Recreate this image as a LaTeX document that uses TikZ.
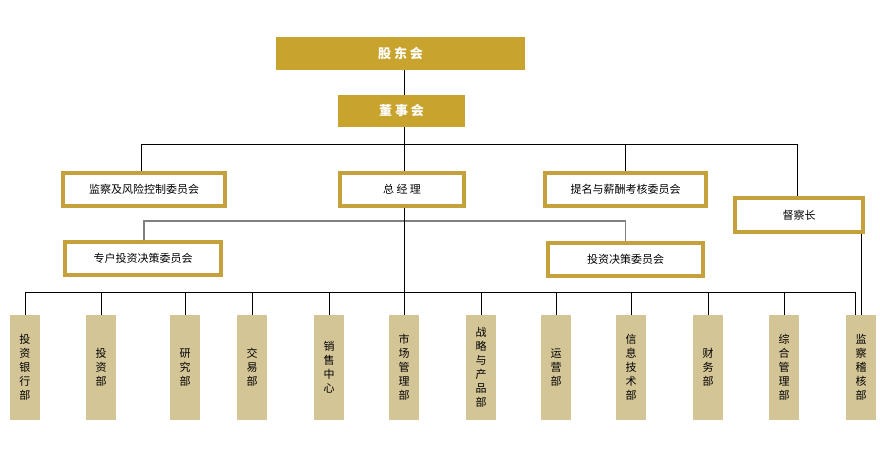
\documentclass[tikz,border=0pt]{standalone}
\usepackage{fontspec}
\setmainfont{Noto Sans CJK SC}
\begin{document}
\begin{tikzpicture}[x=1pt,y=-1pt,
 solid/.style={fill=gold,draw=none,text=white,font=\bfseries\fontsize{13}{15}\selectfont,inner sep=0},
 obox/.style={draw=goldb,line width=3.5pt,fill=white,inner sep=0,font=\fontsize{11}{13}\selectfont},
 dept/.style={fill=tan,draw=none,inner sep=0,minimum width=30pt,minimum height=105pt,align=center,font=\fontsize{11}{14}\selectfont,anchor=north},
 ln/.style={draw=black,line width=0.8pt},
 gln/.style={draw=gray,line width=1.2pt}]
\definecolor{gold}{HTML}{C8A32E}
\definecolor{goldb}{HTML}{C4A13A}
\definecolor{tan}{HTML}{D4C597}
\fill[white] (0,0) rectangle (880,471);
\node[solid,minimum width=249pt,minimum height=33pt] (gd) at (400.5,53.5) {股 东 会};
\node[solid,minimum width=127pt,minimum height=32pt] (ds) at (401.5,111) {董 事 会};
\node[obox,minimum width=162pt,minimum height=33pt] (jc) at (144,189.5) {监察及风险控制委员会};
\node[obox,minimum width=124pt,minimum height=33pt] (zjl) at (402,189.5) {总 经 理};
\node[obox,minimum width=161pt,minimum height=33pt] (tm) at (625.5,189.5) {提名与薪酬考核委员会};
\node[obox,minimum width=128pt,minimum height=34pt] (dc) at (799,215) {督察长};
\node[obox,minimum width=156pt,minimum height=33pt] (zh) at (143,258.5) {专户投资决策委员会};
\node[obox,minimum width=155pt,minimum height=33pt] (tz) at (625.5,259.5) {投资决策委员会};
\foreach \n/\x/\t in {d1/25/投\\资\\银\\行\\部, d2/101/投\\资\\部, d3/185/研\\究\\部, d4/252/交\\易\\部, d5/329/销\\售\\中\\心, d6/404/市\\场\\管\\理\\部, d7/481/战\\略\\与\\产\\品\\部, d8/556/运\\营\\部, d9/631/信\\息\\技\\术\\部, d10/708/财\\务\\部, d11/784/综\\合\\管\\理\\部, d12/861/监\\察\\稽\\核\\部}
 \node[dept] (\n) at (\x,315) {\t};
\draw[ln] (gd.south -| d6) -- (ds.north -| d6);
\draw[ln] (ds.south -| d6) -- (zjl.north -| d6);
\coordinate (hl) at (141,144); \coordinate (hr) at (797,144);
\draw[ln] (jc.north -| hl) -- (hl) -- (hr) -- (dc.north -| hr);
\draw[ln] (tm.north) -- (tm.north |- hl);
\coordinate (gl) at (144,221);
\draw[gln] (zh.north -| gl) -- (gl) -- (tz.north |- gl) -- (tz.north);
\draw[ln] (zjl.south -| d6) -- (d6.north);
\coordinate (bl) at (25,292); \coordinate (br) at (855,292);
\draw[ln] (d1.north) -- (bl) -- (br) -- (855,315);
\foreach \n in {d2,d3,d4,d5,d7,d8,d9,d10,d11} \draw[ln] (\n.north) -- (\n.north |- bl);
\draw[ln] (dc.south -| d12) -- (d12.north);
\end{tikzpicture}
\end{document}
